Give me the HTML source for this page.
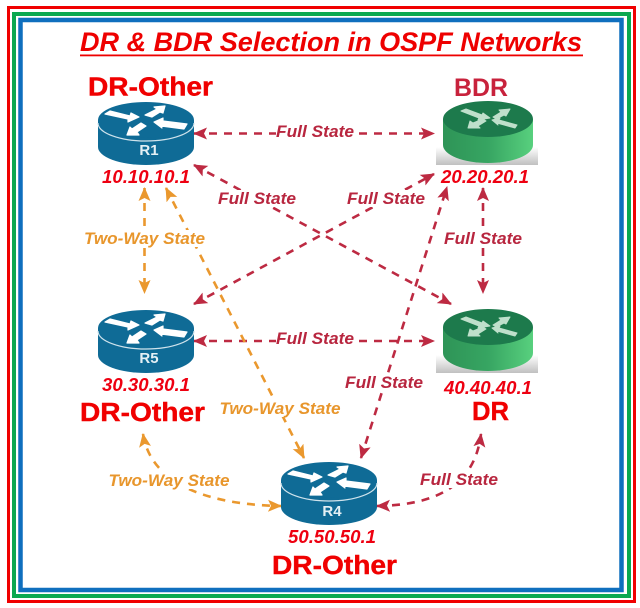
<!DOCTYPE html>
<html><head><meta charset="utf-8">
<style>
html,body{margin:0;padding:0;background:#fff}
svg{display:block}
text{font-family:"Liberation Sans",sans-serif}
.b{font-weight:bold;fill:#f00000;stroke:#f00000;stroke-width:.4}
.ip{font-weight:bold;font-style:italic;fill:#ee0011;font-size:18px}
.f{font-weight:bold;font-style:italic;fill:#b8263f;font-size:17px;text-anchor:middle}
.t{font-weight:bold;font-style:italic;fill:#e8962c;font-size:17px;text-anchor:middle}
.r{fill:none;stroke:#bd2a42;stroke-width:2.6;stroke-dasharray:8 7}
.o{fill:none;stroke:#ea982e;stroke-width:2.6;stroke-dasharray:8 7}
</style></head><body>
<svg width="640" height="608" viewBox="0 0 640 608" xmlns="http://www.w3.org/2000/svg">
<defs>
<marker id="mr" viewBox="0 0 14 14" refX="13" refY="7" markerWidth="14" markerHeight="14" markerUnits="userSpaceOnUse" orient="auto-start-reverse"><path d="M0 1L14 7L0 13L3 7Z" fill="#bd2a42"/></marker>
<marker id="mo" viewBox="0 0 14 14" refX="13" refY="7" markerWidth="14" markerHeight="14" markerUnits="userSpaceOnUse" orient="auto-start-reverse"><path d="M0 1L14 7L0 13L3 7Z" fill="#ea982e"/></marker>
<linearGradient id="gs" x1="0" x2="1" y1="0" y2="0"><stop offset="0" stop-color="#2e9457"/><stop offset=".5" stop-color="#37a562"/><stop offset="1" stop-color="#58d07e"/></linearGradient>
<linearGradient id="sh" x1="0" x2="0" y1="0" y2="1"><stop offset="0" stop-color="#fff"/><stop offset="1" stop-color="#c0c0c0"/></linearGradient>
<g id="blue">
<path d="M-48 0V27A48 18 0 0 0 48 27V0Z" fill="#0f6b96"/>
<ellipse cx="0" cy="0" rx="48" ry="18" fill="#0f6b96"/>
<path d="M-48 3A48 18 0 0 0 48 3" fill="none" stroke="#cfe3ec" stroke-width="1.2"/>
<g fill="#fff" stroke="#fff" stroke-width="1.2" stroke-linejoin="round">
<path d="M-41-6L-36-9L-16-4L-15-7L-7-3L-18 2L-18-1Z"/>
<path d="M-1-5L6-3L14-8L17-7L19-14L8-13L11-11Z"/>
<path d="M-19 15L-16 7L-14 9L-5 3L0 6L-9 12L-7 15Z"/>
<path d="M8 2L17-2L17 1L41 4L38 9L15 6L16 8Z"/>
</g>
</g>
<g id="green">
<rect x="-52" y="28" width="102" height="18" fill="url(#sh)"/>
<path d="M-45 0V26A45 18 0 0 0 45 26V0Z" fill="url(#gs)"/>
<ellipse cx="0" cy="0" rx="45" ry="18" fill="#1d7a4c"/>
<g fill="#bfe0cb" stroke="#bfe0cb" stroke-width="1" stroke-linejoin="round">
<path d="M-27-8L-22-10L-6-4L-5-6L2-1L-10 1L-9-1Z"/>
<path d="M5-2L8 0L16-4L18-3L22-10L11-9L13-7Z"/>
<path d="M-20 9L-18 2L-15 4L-5 0L-2 2L-10 7L-8 9Z"/>
<path d="M4 1L12-1L11 1L29 6L27 9L9 4L10 6Z"/>
</g>
</g>
</defs>

<!-- borders -->
<rect x="8.5" y="7.5" width="626" height="594" fill="none" stroke="#f00000" stroke-width="3"/>
<rect x="14" y="14" width="615" height="582" fill="none" stroke="#0aa850" stroke-width="4"/>
<rect x="20.500" y="20" width="601" height="570" fill="none" stroke="#0f6fbe" stroke-width="4.5"/>

<!-- title -->
<text x="80" y="51" font-size="27" font-style="italic" font-weight="bold" fill="#ee0000" textLength="502" lengthAdjust="spacingAndGlyphs">DR &amp; BDR Selection in OSPF Networks</text>
<rect x="80" y="54.500" width="503" height="1.8" fill="#ee0000"/>

<!-- connectors -->
<line class="r" x1="194" y1="133.500" x2="434" y2="133.500" marker-start="url(#mr)" marker-end="url(#mr)"/>
<line class="r" x1="194" y1="341" x2="434" y2="341" marker-start="url(#mr)" marker-end="url(#mr)"/>
<line class="r" x1="194" y1="165" x2="451" y2="304" marker-start="url(#mr)" marker-end="url(#mr)"/>
<line class="r" x1="194" y1="304" x2="434" y2="174" marker-start="url(#mr)" marker-end="url(#mr)"/>
<line class="r" x1="361" y1="458" x2="447" y2="187" marker-start="url(#mr)" marker-end="url(#mr)"/>
<line class="r" x1="483" y1="188" x2="483" y2="293" marker-start="url(#mr)" marker-end="url(#mr)"/>
<path class="r" d="M377 506C430 505 474 490 481 434" marker-start="url(#mr)" marker-end="url(#mr)"/>
<line class="o" x1="144.500" y1="188" x2="144.500" y2="293" marker-start="url(#mo)" marker-end="url(#mo)"/>
<line class="o" x1="166" y1="188" x2="304" y2="458" marker-start="url(#mo)" marker-end="url(#mo)"/>
<path class="o" d="M143 434C152 490 220 505 281 506" marker-start="url(#mo)" marker-end="url(#mo)"/>

<!-- label backgrounds -->
<g fill="#fff">
<rect x="276" y="123" width="78" height="17"/>
<rect x="276" y="331" width="78" height="17"/>
<rect x="218" y="190" width="78" height="17"/>
<rect x="347" y="190" width="78" height="17"/>
<rect x="444" y="230" width="78" height="17"/>
<rect x="345" y="374" width="78" height="17"/>
<rect x="420" y="471" width="78" height="17"/>
<rect x="84" y="230" width="121" height="17"/>
<rect x="219" y="400" width="121" height="17"/>
<rect x="108" y="472" width="121" height="17"/>
</g>

<!-- routers -->
<use href="#blue" x="146" y="120"/>
<use href="#blue" x="146" y="328"/>
<use href="#blue" x="329" y="480"/>
<use href="#green" x="488" y="119"/>
<use href="#green" x="488" y="327"/>
<text x="149" y="155" font-size="15" font-weight="bold" fill="#e4f0f5" text-anchor="middle">R1</text>
<text x="149" y="363" font-size="15" font-weight="bold" fill="#e4f0f5" text-anchor="middle">R5</text>
<text x="332" y="516" font-size="15" font-weight="bold" fill="#e4f0f5" text-anchor="middle">R4</text>

<!-- role labels -->
<text class="b" x="88" y="95.500" font-size="25.500" textLength="125" lengthAdjust="spacingAndGlyphs">DR-Other</text>
<text x="454" y="96" font-size="25" font-weight="bold" fill="#c8223c" textLength="54" lengthAdjust="spacingAndGlyphs">BDR</text>
<text class="b" x="80" y="421" font-size="25.500" textLength="125" lengthAdjust="spacingAndGlyphs">DR-Other</text>
<text class="b" x="472" y="420" font-size="25.500" textLength="37" lengthAdjust="spacingAndGlyphs">DR</text>
<text class="b" x="272" y="574" font-size="25.500" textLength="125" lengthAdjust="spacingAndGlyphs">DR-Other</text>

<!-- IPs -->
<text class="ip" x="102" y="183" textLength="88" lengthAdjust="spacingAndGlyphs">10.10.10.1</text>
<text class="ip" x="441" y="183" textLength="88" lengthAdjust="spacingAndGlyphs">20.20.20.1</text>
<text class="ip" x="102" y="391" textLength="88" lengthAdjust="spacingAndGlyphs">30.30.30.1</text>
<text class="ip" x="444" y="394" textLength="88" lengthAdjust="spacingAndGlyphs">40.40.40.1</text>
<text class="ip" x="288" y="543" textLength="88" lengthAdjust="spacingAndGlyphs">50.50.50.1</text>

<!-- connector labels -->
<text class="f" x="315" y="137" textLength="78" lengthAdjust="spacingAndGlyphs">Full State</text>
<text class="f" x="315" y="344" textLength="78" lengthAdjust="spacingAndGlyphs">Full State</text>
<text class="f" x="257" y="204" textLength="78" lengthAdjust="spacingAndGlyphs">Full State</text>
<text class="f" x="386" y="204" textLength="78" lengthAdjust="spacingAndGlyphs">Full State</text>
<text class="f" x="483" y="244" textLength="78" lengthAdjust="spacingAndGlyphs">Full State</text>
<text class="f" x="384" y="388" textLength="78" lengthAdjust="spacingAndGlyphs">Full State</text>
<text class="f" x="459" y="485" textLength="78" lengthAdjust="spacingAndGlyphs">Full State</text>
<text class="t" x="144.500" y="244" textLength="121" lengthAdjust="spacingAndGlyphs">Two-Way State</text>
<text class="t" x="280" y="414" textLength="121" lengthAdjust="spacingAndGlyphs">Two-Way State</text>
<text class="t" x="169" y="486" textLength="121" lengthAdjust="spacingAndGlyphs">Two-Way State</text>
</svg>
</body></html>
